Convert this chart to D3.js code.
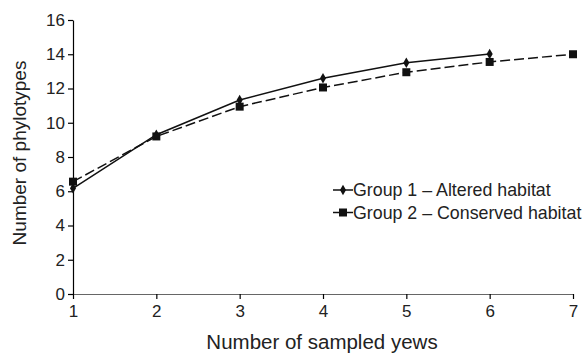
<!DOCTYPE html>
<html>
<head>
<meta charset="utf-8">
<script src="https://cdn.jsdelivr.net/npm/d3@7"></script>
<style>
  body { margin: 0; background: #fff; }
  text { font-family: Arial, "Liberation Sans", sans-serif; fill: #222; }
</style>
</head>
<body>
<div id="chart"></div>
<script>
const years = [1, 2, 3, 4, 5, 6, 7];
const group1 = [6.17, 9.3, 11.33, 12.6, 13.5, 14.02];
const group2 = [6.56, 9.2, 10.94, 12.06, 12.95, 13.55, 14.0];
const seriesNames = ['Group 1 \u2013 Altered habitat', 'Group 2 \u2013 Conserved habitat'];
const yTicks = [0, 2, 4, 6, 8, 10, 12, 14, 16];

const width = 583, height = 353;
const margin = {top: 20, right: 10, bottom: 59, left: 73};

const svg = d3.select('#chart').append('svg')
    .attr('width', width)
    .attr('height', height);

const x = d3.scaleLinear().domain([1, 7]).range([margin.left, 573]);
const y = d3.scaleLinear().domain([0, 16]).range([294, margin.top]);

// axes
const yAxis = svg.append('g')
    .attr('transform', `translate(${margin.left},0)`)
    .call(d3.axisLeft(y).tickValues(yTicks).tickSize(5).tickSizeOuter(0).tickPadding(3));
yAxis.selectAll('text').style('font-size', '17px');

const xAxis = svg.append('g')
    .attr('transform', `translate(0,${y(0)})`)
    .call(d3.axisBottom(x).tickValues(years).tickFormat(d3.format('d')).tickSize(5).tickSizeOuter(0).tickPadding(6));
xAxis.selectAll('text').style('font-size', '17px');
xAxis.select('.domain').attr('stroke', '#666');

svg.selectAll('.domain, .tick line').attr('stroke-width', 1.2);

svg.append('text')
    .attr('x', 322)
    .attr('y', 349)
    .attr('text-anchor', 'middle')
    .style('font-size', '20.5px')
    .text('Number of sampled yews');

svg.append('text')
    .attr('transform', 'translate(26,153) rotate(-90)')
    .attr('text-anchor', 'middle')
    .style('font-size', '19px')
    .text('Number of phylotypes');

// lines
const line = d3.line()
    .x((d, i) => x(years[i]))
    .y(d => y(d));

svg.append('path')
    .datum(group2)
    .attr('fill', 'none')
    .attr('stroke', '#111')
    .attr('stroke-width', 1.5)
    .attr('stroke-dasharray', '10,4')
    .attr('d', line);

svg.append('path')
    .datum(group1)
    .attr('fill', 'none')
    .attr('stroke', '#111')
    .attr('stroke-width', 1.5)
    .attr('d', line);

const diamond = d3.symbol().type(d3.symbolDiamond).size(32);
const square = d3.symbol().type(d3.symbolSquare).size(64);

svg.selectAll('.sq')
    .data(group2)
    .join('path')
    .attr('class', 'sq')
    .attr('transform', (d, i) => `translate(${x(years[i])},${y(d)})`)
    .attr('d', square)
    .attr('fill', '#111');

svg.selectAll('.dm')
    .data(group1)
    .join('path')
    .attr('class', 'dm')
    .attr('transform', (d, i) => `translate(${x(years[i])},${y(d)})`)
    .attr('d', diamond)
    .attr('fill', '#111');

// legend
const legend = svg.append('g').attr('transform', 'translate(333,190)');
const symbols = [diamond, square];
seriesNames.forEach((name, i) => {
    const g = legend.append('g').attr('transform', `translate(0,${i * 22.5})`);
    g.append('line')
        .attr('x1', 0).attr('x2', 20)
        .attr('stroke', '#111').attr('stroke-width', 1.5);
    g.append('path')
        .attr('transform', 'translate(10,0)')
        .attr('d', symbols[i])
        .attr('fill', '#111');
    g.append('text')
        .attr('x', 20)
        .attr('dy', '0.35em')
        .style('font-size', '17.8px')
        .text(name);
});
</script>
</body>
</html>
